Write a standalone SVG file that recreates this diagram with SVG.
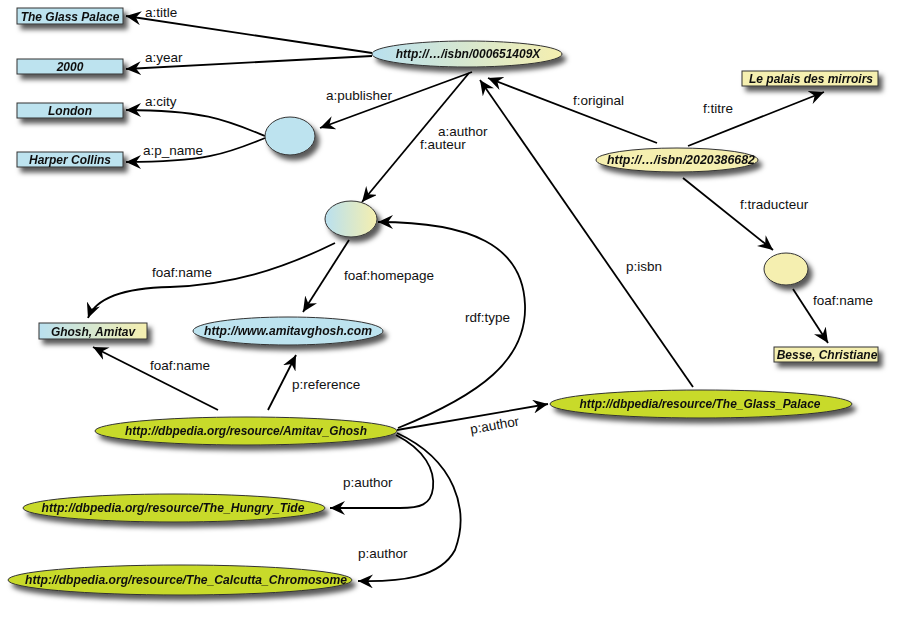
<svg xmlns="http://www.w3.org/2000/svg" width="900" height="618" viewBox="0 0 900 618">
<defs>
<filter id="sh" x="-20%" y="-50%" width="150%" height="250%">
<feDropShadow dx="4" dy="5" stdDeviation="2.5" flood-color="#000" flood-opacity="0.65"/>
</filter>
<linearGradient id="by" x1="0" y1="0" x2="1" y2="0">
<stop offset="0" stop-color="#b9e0ef"/>
<stop offset="1" stop-color="#f5efaf"/>
</linearGradient>
<marker id="ah" markerUnits="userSpaceOnUse" markerWidth="16" markerHeight="14" viewBox="0 0 16 14" refX="15" refY="7" orient="auto">
<path d="M0,0 L15,7 L0,14 L5,7 z" fill="#000"/>
</marker>
<style>
.n{stroke:#333;stroke-width:1}
.blue{fill:#bde3ef}
.yel{fill:#f5efb0}
.grn{fill:#c8da2b}
.grad{fill:url(#by)}
.t{font-family:"Liberation Sans",Arial,sans-serif;font-weight:bold;font-style:italic;font-size:12px;fill:#111;text-anchor:middle}
.l{font-family:"Liberation Sans",Arial,sans-serif;font-size:13.5px;fill:#111}
.e{fill:none;stroke:#000;stroke-width:1.8;marker-end:url(#ah)}
</style>
</defs>
<rect width="900" height="618" fill="#fff"/>

<g id="connectors">
<path class="e" d="M372,53 L126,16"/>
<path class="e" d="M372,56 L126,69"/>
<path class="e" d="M265,136 C228,121 205,110 126,110"/>
<path class="e" d="M265,138 C230,152 210,162 126,162"/>
<path class="e" d="M472,72 L320,128"/>
<path class="e" d="M469,73 L362,202"/>
<path class="e" d="M693,387 L480,80"/>
<path class="e" d="M657,143 L488,78"/>
<path class="e" d="M688,146 L824,92"/>
<path class="e" d="M683,178 L773,250"/>
<path class="e" d="M793,289 L828,343"/>
<path class="e" d="M335,243 C280,270 230,285 170,287 C120,288 95,300 88,318"/>
<path class="e" d="M349,240 L303,312"/>
<path class="e" d="M398,428 C480,395 527,360 525,305 C523,245 470,222 378,222"/>
<path class="e" d="M218,410 L93,347"/>
<path class="e" d="M268,410 L296,355"/>
<path class="e" d="M397,430 L548,404"/>
<path class="e" d="M396,435 C425,450 435,470 433,488 C431,505 420,508 400,508 L330,508"/>
<path class="e" d="M397,433 C455,460 470,510 455,550 C440,578 400,582 358,581"/>
<text class="l" x="145" y="17">a:title</text>
<text class="l" x="145" y="62">a:year</text>
<text class="l" x="145" y="106">a:city</text>
<text class="l" x="143" y="155">a:p_name</text>
<text class="l" x="326" y="100">a:publisher</text>
<text class="l" x="438" y="136">a:author</text>
<text class="l" x="420" y="149">f:auteur</text>
<text class="l" x="573" y="105">f:original</text>
<text class="l" x="703" y="113">f:titre</text>
<text class="l" x="740" y="209">f:traducteur</text>
<text class="l" x="626" y="271">p:isbn</text>
<text class="l" x="813" y="305">foaf:name</text>
<text class="l" x="152" y="277">foaf:name</text>
<text class="l" x="344" y="280">foaf:homepage</text>
<text class="l" x="465" y="322">rdf:type</text>
<text class="l" x="150" y="370">foaf:name</text>
<text class="l" x="292" y="389">p:reference</text>
<text class="l" x="471" y="434" transform="rotate(-10 471 434)">p:author</text>
<text class="l" x="343" y="487">p:author</text>
<text class="l" x="358" y="558">p:author</text>
</g>

<g id="lit-glass-palace" filter="url(#sh)"><rect class="n blue" x="17" y="8" width="106" height="16"/><text class="t" x="70" y="20.5">The Glass Palace</text></g>
<g id="lit-2000" filter="url(#sh)"><rect class="n blue" x="17" y="59" width="106" height="15"/><text class="t" x="70" y="71">2000</text></g>
<g id="lit-london" filter="url(#sh)"><rect class="n blue" x="17" y="103" width="106" height="15"/><text class="t" x="70" y="115">London</text></g>
<g id="lit-harper" filter="url(#sh)"><rect class="n blue" x="17" y="152" width="106" height="15"/><text class="t" x="70" y="164">Harper Collins</text></g>

<g id="isbn-000651409X" filter="url(#sh)"><ellipse class="n grad" cx="467" cy="54" rx="95" ry="13"/><text class="t" x="468" y="58" font-size="12.5">http://…/isbn/000651409X</text></g>
<g id="publisher" filter="url(#sh)"><ellipse class="n blue" cx="290" cy="136" rx="25" ry="19"/></g>
<g id="author" filter="url(#sh)"><ellipse class="n grad" cx="351" cy="219" rx="26" ry="18"/></g>
<g id="lit-ghosh" filter="url(#sh)"><rect class="n grad" x="39" y="323" width="108" height="16"/><text class="t" x="93" y="335.5">Ghosh, Amitav</text></g>
<g id="homepage" filter="url(#sh)"><ellipse class="n blue" cx="288" cy="331" rx="95" ry="14"/><text class="t" x="288" y="335" textLength="168" lengthAdjust="spacingAndGlyphs">http://www.amitavghosh.com</text></g>

<g id="isbn-2020386682" filter="url(#sh)"><ellipse class="n yel" cx="677" cy="160" rx="81" ry="12"/><text class="t" x="681" y="164" textLength="148" lengthAdjust="spacingAndGlyphs">http://…/isbn/2020386682</text></g>
<g id="lit-palais" filter="url(#sh)"><rect class="n yel" x="742" y="71" width="136" height="15"/><text class="t" x="811" y="83">Le palais des mirroirs</text></g>
<g id="translator" filter="url(#sh)"><ellipse class="n yel" cx="786" cy="269" rx="22" ry="16"/></g>
<g id="lit-besse" filter="url(#sh)"><rect class="n yel" x="774" y="347" width="104" height="15"/><text class="t" x="827" y="359">Besse, Christiane</text></g>

<g id="db-amitav" filter="url(#sh)"><ellipse class="n grn" cx="246" cy="431" rx="151" ry="14"/><text class="t" x="246" y="435" textLength="242" lengthAdjust="spacingAndGlyphs">http://dbpedia.org/resource/Amitav_Ghosh</text></g>
<g id="db-glass-palace" filter="url(#sh)"><ellipse class="n grn" cx="701" cy="404" rx="151" ry="14"/><text class="t" x="700" y="408" textLength="241" lengthAdjust="spacingAndGlyphs">http://dbpedia/resource/The_Glass_Palace</text></g>
<g id="db-hungry-tide" filter="url(#sh)"><ellipse class="n grn" cx="174" cy="508" rx="151" ry="14"/><text class="t" x="173" y="512" textLength="263" lengthAdjust="spacingAndGlyphs">http://dbpedia.org/resource/The_Hungry_Tide</text></g>
<g id="db-calcutta" filter="url(#sh)"><ellipse class="n grn" cx="180" cy="580" rx="172" ry="15"/><text class="t" x="186" y="584" textLength="322" lengthAdjust="spacingAndGlyphs">http://dbpedia.org/resource/The_Calcutta_Chromosome</text></g>
</svg>
